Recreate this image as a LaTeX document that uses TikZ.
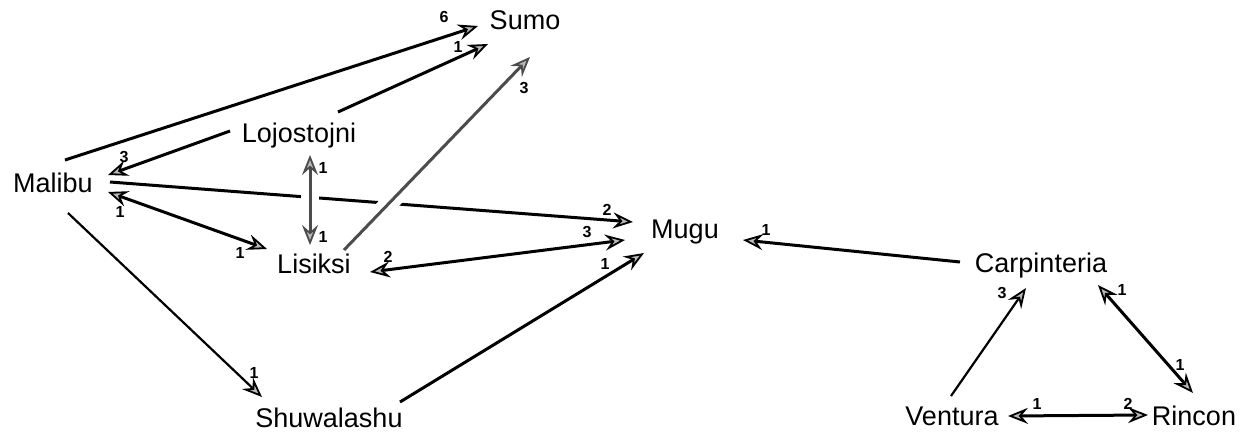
\documentclass[tikz,border=0pt]{standalone}
\usepackage{fontspec}
\setmainfont{Liberation Sans}
\usetikzlibrary{arrows.meta,backgrounds}
\tikzset{
  hd/.tip={Stealth[length=10pt,width=8pt,inset=3.5pt,fill=gray!55,line width=0.9pt]},
  place/.style={anchor=base, inner sep=0pt, font=\fontsize{13.5}{16}\selectfont},
  num/.style={inner sep=0pt, font=\fontsize{8}{9}\selectfont\bfseries},
  link/.style={line width=1.5pt, -hd},
  twoway/.style={line width=1.5pt, hd-hd},
  thin link/.style={line width=1.1pt, -hd},
  paler/.style={draw=black!70},
  over/.style={preaction={draw=white, line width=9pt}},
}
\begin{document}
\begin{tikzpicture}[x=0.5pt, y=-0.5pt]
\useasboundingbox (0,0) rectangle (1241,433);

% places
\node[place] (malibu)  at (53,192)   {Malibu};
\node[place] (sumo)    at (525,30)   {Sumo};
\node[place] (lojo)    at (299,142)  {Lojostojni};
\node[place] (lisiksi) at (314,273)  {Lisiksi};
\node[place] (mugu)    at (685,238)  {Mugu};
\node[place] (carp)    at (1041,272) {Carpinteria};
\node[place] (shuwa)   at (329,427)  {Shuwalashu};
\node[place] (ventura) at (952,425)  {Ventura};
\node[place] (rincon)  at (1194,425) {Rincon};

\begin{pgfonlayer}{background}
% long line first, so the lines crossing it break it
\draw[link] ([shift={(57,-10)}]malibu.base) -- ([shift={(-52,-16)}]mugu.base)
  node[num] (n-mm) at (607,210) {2};
\draw[twoway, paler, over] ([shift={(11,13)}]lojo.base) -- ([shift={(-4,-28)}]lisiksi.base)
  node[num] (n-ll1) at (323,168) {1}
  node[num] (n-ll2) at (323,237) {1};
\draw[link, paler, over] ([shift={(30,-23)}]lisiksi.base) -- ([shift={(5,27)}]sumo.base)
  node[num] (n-ls) at (524,88) {3};

% remaining connections
\draw[link] ([shift={(12,-32)}]malibu.base) -- ([shift={(-47,-4)}]sumo.base)
  node[num] (n-ms) at (444,17) {6};
\draw[link] ([shift={(39,-30)}]lojo.base) -- ([shift={(-37,14)}]sumo.base)
  node[num] (n-los) at (458,47) {1};
\draw[link] ([shift={(-69,-11)}]lojo.base) -- ([shift={(55,-17)}]malibu.base)
  node[num] (n-lom) at (124,157) {3};
\draw[twoway] ([shift={(55,0)}]malibu.base) -- ([shift={(-47,-24)}]lisiksi.base)
  node[num] (n-ml1) at (120,212) {1}
  node[num] (n-ml2) at (240,253) {1};
\draw[twoway] ([shift={(56,-1)}]lisiksi.base) -- ([shift={(-60,2)}]mugu.base)
  node[num] (n-lm1) at (388,257) {2}
  node[num] (n-lm2) at (587,232) {3};
\draw[link] ([shift={(71,-25)}]shuwa.base) -- ([shift={(-41,15)}]mugu.base)
  node[num] (n-sm) at (605,264) {1};
\draw[thin link] ([shift={(15,21)}]malibu.base) -- ([shift={(-67,-30)}]shuwa.base)
  node[num] (n-msh) at (254,373) {1};
\draw[link] ([shift={(-81,-10)}]carp.base) -- ([shift={(58,2)}]mugu.base)
  node[num] (n-cm) at (766,230) {1};
\draw[thin link] ([shift={(-1,-29)}]ventura.base) -- ([shift={(-15,16)}]carp.base)
  node[num] (n-vc) at (1002,293) {3};
\draw[twoway] ([shift={(57,13)}]carp.base) -- ([shift={(-1,-32)}]rincon.base)
  node[num] (n-cr1) at (1122,290) {1}
  node[num] (n-cr2) at (1180,365) {1};
\draw[twoway] ([shift={(56,-9)}]ventura.base) -- ([shift={(-46,-10)}]rincon.base)
  node[num] (n-vr1) at (1037,404) {1}
  node[num] (n-vr2) at (1128,404) {2};
\end{pgfonlayer}
\end{tikzpicture}
\end{document}
